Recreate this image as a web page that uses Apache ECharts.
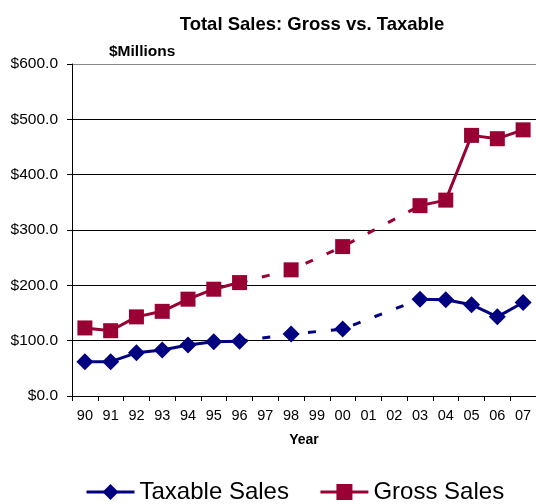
<!DOCTYPE html>
<html>
<head>
<meta charset="utf-8">
<script src="https://cdn.jsdelivr.net/npm/echarts@6/dist/echarts.min.js"></script>
<style>html,body{margin:0;padding:0;background:#fff;}#c{width:536px;height:504px;}</style>
</head>
<body>
<div id="c"></div>
<script>
var years = ['90','91','92','93','94','95','96','97','98','99','00','01','02','03','04','05','06','07'];
var taxable = [62, 62, 78, 83, 92, 98, 99, null, 112, null, 121, null, null, 175, 174, 165, 143, 169];
var gross = [123, 118, 143, 153, 175, 193, 205, null, 228, null, 270, null, null, 344, 354, 471, 465, 481];
var yTicks = [0, 100, 200, 300, 400, 500, 600];

// dashed bridge through the gap years (96 -> 98 -> 00 -> 03)
var bridgeIdx = [6, 8, 10, 13];
function bridge(arr) {
  return arr.map(function (v, i) { return bridgeIdx.indexOf(i) >= 0 ? v : null; });
}

var font = 'Liberation Sans, Arial, sans-serif';
var chart = echarts.init(document.getElementById('c'));
chart.setOption({
  animation: false,
  backgroundColor: '#fff',
  title: {
    text: 'Total Sales: Gross vs. Taxable',
    left: 307, top: 10, textAlign: 'center',
    textStyle: { fontFamily: font, fontSize: 18.5, fontWeight: 'bold', color: '#000' }
  },
  graphic: [{
    type: 'text', left: 109, top: 44,
    style: { text: '$Millions', font: 'bold 15.5px ' + font, fill: '#000' }
  }],
  legend: {
    data: ['Taxable Sales', 'Gross Sales'],
    left: 80, top: 475,
    itemWidth: 48, itemHeight: 20, itemGap: 30,
    lineStyle: { width: 3 },
    textStyle: { fontFamily: font, fontSize: 24, color: '#000' }
  },
  grid: { left: 72, top: 64, width: 467, height: 332 },
  xAxis: {
    type: 'category', data: years, boundaryGap: true,
    name: 'Year', nameLocation: 'middle', nameGap: 37,
    nameTextStyle: { fontFamily: font, fontSize: 14, fontWeight: 'bold', color: '#000' },
    axisLine: { lineStyle: { color: '#000', width: 1 } },
    axisTick: { show: true, length: 5, interval: 0, lineStyle: { color: '#000' } },
    axisLabel: { interval: 0, margin: 12, fontFamily: font, fontSize: 14.5, color: '#000' },
    splitLine: { show: false }
  },
  yAxis: {
    type: 'value', min: 0, max: 600, interval: 100,
    axisLine: { show: true, lineStyle: { color: '#000', width: 1 } },
    axisTick: { show: true, length: 5, lineStyle: { color: '#000' } },
    axisLabel: {
      margin: 14, fontFamily: font, fontSize: 15.5, color: '#000',
      formatter: function (v) { return yTicks.indexOf(v) >= 0 ? '$' + v.toFixed(1) : ''; }
    },
    splitLine: { show: true, lineStyle: { color: ['#000', '#000', '#000', '#000', '#000', '#000', '#888'], width: 1 } }
  },
  series: [
    {
      name: 'Taxable Sales', type: 'line', data: taxable, connectNulls: false,
      symbol: 'diamond', symbolSize: 17, showSymbol: true, showAllSymbol: true,
      itemStyle: { color: '#000080' },
      lineStyle: { color: '#000080', width: 3 }, z: 5
    },
    {
      name: 'Gross Sales', type: 'line', data: gross, connectNulls: false,
      symbol: 'rect', symbolSize: 15, showSymbol: true, showAllSymbol: true,
      itemStyle: { color: '#990033' },
      lineStyle: { color: '#990033', width: 3 }, z: 5
    },
    {
      name: 'taxBridge', type: 'line', data: bridge(taxable), connectNulls: true,
      showSymbol: false, symbol: 'none', silent: true,
      lineStyle: { color: '#000080', width: 3, type: [8, 15], dashOffset: 0 }, z: 3
    },
    {
      name: 'grossBridge', type: 'line', data: bridge(gross), connectNulls: true,
      showSymbol: false, symbol: 'none', silent: true,
      lineStyle: { color: '#990033', width: 3, type: [8, 15], dashOffset: 0 }, z: 3
    }
  ]
});
</script>
</body>
</html>
